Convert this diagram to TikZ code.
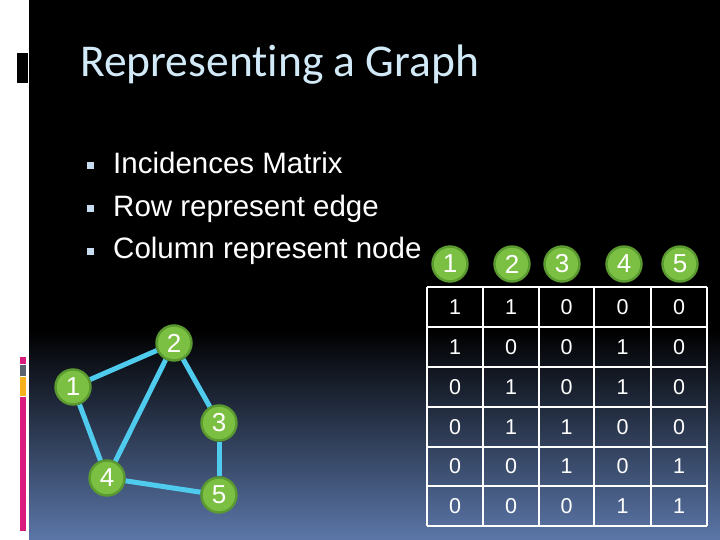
\documentclass[tikz,border=0pt]{standalone}
\usepackage{fontspec}
\setmainfont{Liberation Sans}
\newfontfamily\titlefont[Ligatures=NoCommon]{Carlito}
\definecolor{bgbot}{HTML}{5B76A8}
\definecolor{titlecol}{HTML}{D2EAF8}
\definecolor{bulletcol}{HTML}{C8DCF0}
\definecolor{nodefill}{HTML}{7CC043}
\definecolor{nodeedge}{HTML}{5A9A30}
\definecolor{edgecol}{HTML}{4FCBEE}
\definecolor{magentabar}{HTML}{D81B7C}
\definecolor{graybar}{HTML}{5A6270}
\definecolor{orangebar}{HTML}{F5B21C}
\pgfdeclarelayer{bottom}
\pgfdeclarelayer{edges}
\pgfsetlayers{bottom,edges,main}
\tikzset{
  gnode/.style={circle, fill=nodefill, draw=nodeedge, line width=2.4pt, minimum size=35pt, inner sep=0pt, text=white, font=\fontsize{26}{26}\selectfont},
  gedge/.style={draw=edgecol, line width=5pt},
  bullettext/.style={anchor=base west, text=white, font=\fontsize{29.5}{29.5}\selectfont, inner sep=0pt},
  cellnum/.style={text=white, font=\fontsize{21.5}{21.5}\selectfont, inner sep=0pt},
  grid/.style={draw=white, line width=2pt}
}
\begin{document}
\begin{tikzpicture}[x=1pt,y=-1pt]
\useasboundingbox (0,0) rectangle (720,540);
\begin{pgfonlayer}{bottom}
% background
\fill[white] (0,0) rectangle (720,540);
\fill[black] (29,0) rectangle (720,331);
\shade[top color=black, bottom color=bgbot] (29,330) rectangle (720,540);
% left decorations
\fill[black] (17,53) rectangle (28,83);
\fill[magentabar] (20,357) rectangle (26,364);
\fill[graybar] (20,365) rectangle (26,376);
\fill[orangebar] (20,377) rectangle (26,396);
\fill[magentabar] (20,397) rectangle (26,531);
\end{pgfonlayer}
% title
\node[anchor=base west, inner sep=0pt, text=titlecol, font=\titlefont\fontsize{45.5}{45.5}\selectfont] (title) at (80,77) {Representing a Graph};
% bullets
\foreach \y/\t/\n in {173.5/Incidences Matrix/b1, 216/Row represent edge/b2, 258.5/Column represent node/b3}{
  \fill[bulletcol] (87,\y-11) rectangle (94,\y-4);
  \node[bullettext] (\n) at (113,\y) {\t};
}
% graph
\node[gnode] (n1) at (73,387) {1};
\node[gnode] (n2) at (174,343) {2};
\node[gnode] (n3) at (219,423) {3};
\node[gnode] (n4) at (107,478) {4};
\node[gnode] (n5) at (219,495) {5};
\begin{pgfonlayer}{edges}
\path[gedge] (n1) -- (n2);
\path[gedge] (n1) -- (n4);
\path[gedge] (n2) -- (n4);
\path[gedge] (n2) -- (n3);
\path[gedge] (n3) -- (n5);
\path[gedge] (n4) -- (n5);
\end{pgfonlayer}
% header circles
\node[gnode] (h1) at (450,264) {1};
\node[gnode] (h2) at (512,264) {2};
\node[gnode] (h3) at (562,264) {3};
\node[gnode] (h4) at (624,264) {4};
\node[gnode] (h5) at (680,264) {5};
% table grid
\foreach \x in {427,483,539,594,651,707}{\draw[grid] (\x,287) -- (\x,526);}
\foreach \y in {287,327,367,407,447,486,526}{\draw[grid] (427,\y) -- (707,\y);}
% entries
\def\colxs{{455,511,566.5,622.5,679}}
\def\rowys{{307,347,387,427,466.5,506}}
\foreach \r/\vals in {0/{1,1,0,0,0},1/{1,0,0,1,0},2/{0,1,0,1,0},3/{0,1,1,0,0},4/{0,0,1,0,1},5/{0,0,0,1,1}}{
  \foreach \v [count=\c from 0] in \vals {
    \pgfmathsetmacro\cx{\colxs[\c]}
    \pgfmathsetmacro\cy{\rowys[\r]}
    \node[cellnum] (m\r\c) at (\cx,\cy) {\v};
  }
}
\end{tikzpicture}
\end{document}
